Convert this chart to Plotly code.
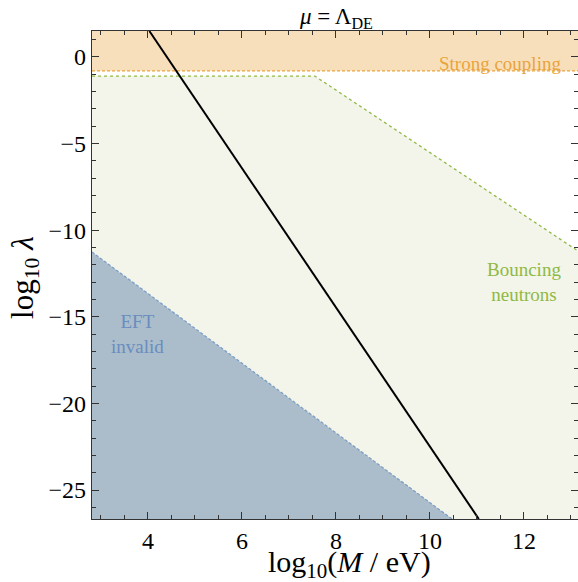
import plotly.graph_objects as go

# ---- data ----
x_range = [2.81, 13.15]
y_range = [-26.67, 1.5]

strong_x = [2.81, 13.15, 13.15, 2.81]
strong_y = [-0.8, -0.8, 1.5, 1.5]

bounce_x = [2.81, 7.55, 13.15]
bounce_y = [-1.1, -1.1, -11.2]
bounce_poly_x = [2.81, 7.55, 13.15, 13.15, 2.81]
bounce_poly_y = [-1.1, -1.1, -11.2, -26.67, -26.67]

eft_x = [2.81, 10.47]
eft_y = [-11.26, -26.67]
eft_poly_x = [2.81, 10.47, 2.81]
eft_poly_y = [-11.26, -26.67, -26.67]

black_x = [4.03, 11.04]
black_y = [1.5, -26.67]

x_ticks = [4, 6, 8, 10, 12]
y_ticks = [0, -5, -10, -15, -20, -25]

FONT = "Liberation Serif, Times New Roman, DejaVu Serif, serif"
ORANGE = "#e9a43c"
GREEN = "#8fb944"
BLUE = "#6a8cc0"

fig = go.Figure()
fig.add_trace(go.Scatter(x=bounce_poly_x, y=bounce_poly_y, fill="toself", mode="none",
                         fillcolor="#f3f5ea", hoverinfo="skip"))
fig.add_trace(go.Scatter(x=strong_x, y=strong_y, fill="toself", mode="none",
                         fillcolor="#f8dfbb", hoverinfo="skip"))
fig.add_trace(go.Scatter(x=eft_poly_x, y=eft_poly_y, fill="toself", mode="none",
                         fillcolor="#abbdca", hoverinfo="skip"))
fig.add_trace(go.Scatter(x=[strong_x[0], strong_x[1]], y=[strong_y[0], strong_y[1]], mode="lines",
                         line=dict(color=ORANGE, width=1.3, dash="3px,2px")))
fig.add_trace(go.Scatter(x=bounce_x, y=bounce_y, mode="lines",
                         line=dict(color=GREEN, width=1.3, dash="3px,3px")))
fig.add_trace(go.Scatter(x=eft_x, y=eft_y, mode="lines",
                         line=dict(color="#7b9dc8", width=1.3, dash="3px,2px")))
fig.add_trace(go.Scatter(x=black_x, y=black_y, mode="lines",
                         line=dict(color="black", width=2)))

fig.add_annotation(x=11.49, y=-0.35, text="Strong coupling", showarrow=False,
                   font=dict(family=FONT, size=19, color=ORANGE))
fig.add_annotation(x=12.0, y=-13.0, text="Bouncing<br>neutrons", showarrow=False,
                   font=dict(family=FONT, size=19, color=GREEN))
fig.add_annotation(x=3.77, y=-16.0, text="EFT<br>invalid", showarrow=False,
                   font=dict(family=FONT, size=19, color=BLUE))

# axis titles and plot title
fig.add_annotation(xref="paper", yref="paper", x=0.529, y=-0.092, xanchor="center", yanchor="middle",
                   text="log<sub>10</sub>(<i>M</i> / eV)", showarrow=False,
                   font=dict(family=FONT, size=30, color="black"))
fig.add_annotation(xref="paper", yref="paper", x=-0.138, y=0.496, xanchor="center", yanchor="middle",
                   textangle=-90, text="log<sub>10</sub> <i>λ</i>", showarrow=False,
                   font=dict(family=FONT, size=31, color="black"))
fig.add_annotation(xref="paper", yref="paper", x=0.502, y=1, xanchor="center", yanchor="bottom",
                   yshift=-3, text="<i>μ</i> = Λ<sub>DE</sub>", showarrow=False,
                   font=dict(family=FONT, size=23, color="black"))

axis_common = dict(showgrid=False, zeroline=False, showline=True, linecolor="#333",
                   linewidth=1.2, mirror="ticks", ticks="inside", ticklen=7,
                   tickcolor="#333", tickwidth=1,
                   tickfont=dict(family=FONT, size=24, color="black"))

fig.update_xaxes(range=x_range, tickvals=x_ticks,
                 minor=dict(dtick=0.5, ticks="inside", ticklen=4, tickcolor="#333"),
                 **axis_common)
fig.update_yaxes(range=y_range, tickvals=y_ticks,
                 minor=dict(dtick=1, ticks="inside", ticklen=4, tickcolor="#333"),
                 **axis_common)

fig.update_layout(
    width=578, height=582,
    margin=dict(l=92, r=0, t=31, b=63),
    plot_bgcolor="white", paper_bgcolor="white",
    showlegend=False,
    font=dict(family=FONT, color="black"),
)

fig.write_html("out.html", config={"displayModeBar": False},
               post_script="document.body.style.margin='0';document.body.style.overflow='hidden';")
